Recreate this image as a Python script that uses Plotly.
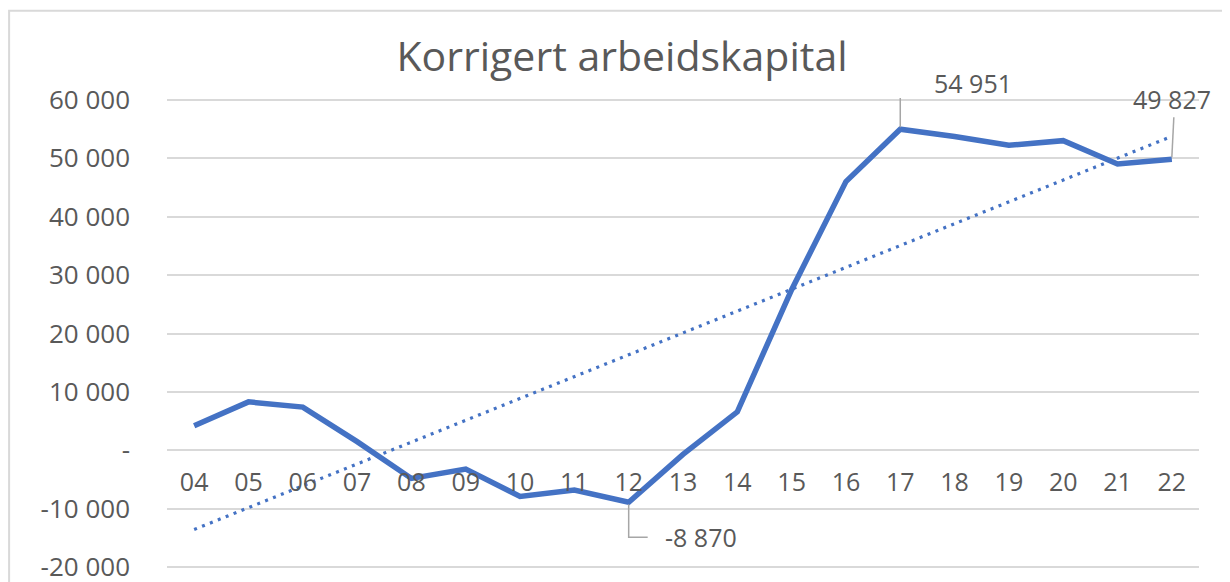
import numpy as np
import plotly.graph_objects as go

categories = ["04", "05", "06", "07", "08", "09", "10", "11", "12", "13",
              "14", "15", "16", "17", "18", "19", "20", "21", "22"]
values = [4200, 8300, 7400, 1500, -4800, -3200, -7900, -6800, -8870, -700,
          6600, 27500, 46000, 54951, 53700, 52200, 53000, 49000, 49827]
ytick_vals = [-20000, -10000, 0, 10000, 20000, 30000, 40000, 50000, 60000]
ytick_text = ["-20 000", "-10 000", "-", "10 000", "20 000", "30 000", "40 000", "50 000", "60 000"]
title_text = "Korrigert arbeidskapital"

BLUE = "#4472C4"
GRID = "#D9D9D9"
TXT = "#595959"
FONT = "Open Sans"

def fmt(v):
    s = f"{abs(int(v)):,}".replace(",", " ")
    return ("-" if v < 0 else "") + s

idx = np.arange(len(values))
coef = np.polyfit(idx, np.array(values, dtype=float), 1)
trend = np.polyval(coef, idx)

fig = go.Figure()
fig.add_trace(go.Scatter(x=categories, y=trend, mode="lines",
                         line=dict(color=BLUE, width=3.2, dash="3px,5.5px"),
                         hoverinfo="skip", showlegend=False))
fig.add_trace(go.Scatter(x=categories, y=values, mode="lines",
                         line=dict(color=BLUE, width=5.5),
                         showlegend=False))

i_max = int(np.argmax(values))
i_min = int(np.argmin(values))
i_last = len(values) - 1

# (index, leader path in pixel offsets, text xshift, yshift, xanchor)
labels = [
    (i_max, "M0,2 L0,46 L16,46", 32, 46, "left"),
    (i_min, "M0,-2 L0,-35 L19,-35", 34, -35, "left"),
    (i_last, "M0,2 L2,42", 0, 60, "center"),
]
shapes = []
annotations = []
for i, path, xs, ys, xa in labels:
    shapes.append(dict(type="path", xref="x", yref="y",
                       xsizemode="pixel", ysizemode="pixel",
                       xanchor=i, yanchor=values[i],
                       path=path, line=dict(color="#A6A6A6", width=1.5)))
    annotations.append(dict(x=i, y=values[i], xref="x", yref="y",
                            text=fmt(values[i]), showarrow=False,
                            xshift=xs, yshift=ys, xanchor=xa, yanchor="middle",
                            font=dict(family=FONT, size=25, color=TXT)))

Y0, Y1 = -20300, 60300

# outer chart frame
shapes.append(dict(type="rect", xref="paper", yref="paper",
                   x0=-0.153, x1=1.2, y0=-0.3, y1=1.185,
                   line=dict(color=GRID, width=2), layer="below"))

W, H = 1222, 574  # page body adds an 8px offset
fig.update_layout(
    width=W, height=H,
    margin=dict(l=159, r=31, t=90, b=13),
    paper_bgcolor="white", plot_bgcolor="white",
    title=dict(text=title_text, x=(622 - 8) / W, xref="container", xanchor="center",
               y=1 - (57 - 8) / H, yref="container", yanchor="middle",
               font=dict(family=FONT, size=41, color=TXT)),
    xaxis=dict(type="category", range=[-0.5, len(categories) - 0.5],
               autorange=False, automargin=False,
               showgrid=False, zeroline=False, showline=False,
               ticks="", anchor="free", position=(0 - Y0) / (Y1 - Y0),
               ticklabelstandoff=15, ticklabeloverflow="allow",
               tickfont=dict(family=FONT, size=25, color=TXT)),
    yaxis=dict(range=[Y0, Y1], autorange=False, automargin=False,
               tickvals=ytick_vals, ticktext=ytick_text,
               showgrid=True, gridcolor=GRID, gridwidth=2, zeroline=False,
               showline=False, ticks="", ticklabelstandoff=36,
               ticklabeloverflow="allow",
               tickfont=dict(family=FONT, size=26, color=TXT)),
    shapes=shapes, annotations=annotations,
)

fig.write_html("out.html")
